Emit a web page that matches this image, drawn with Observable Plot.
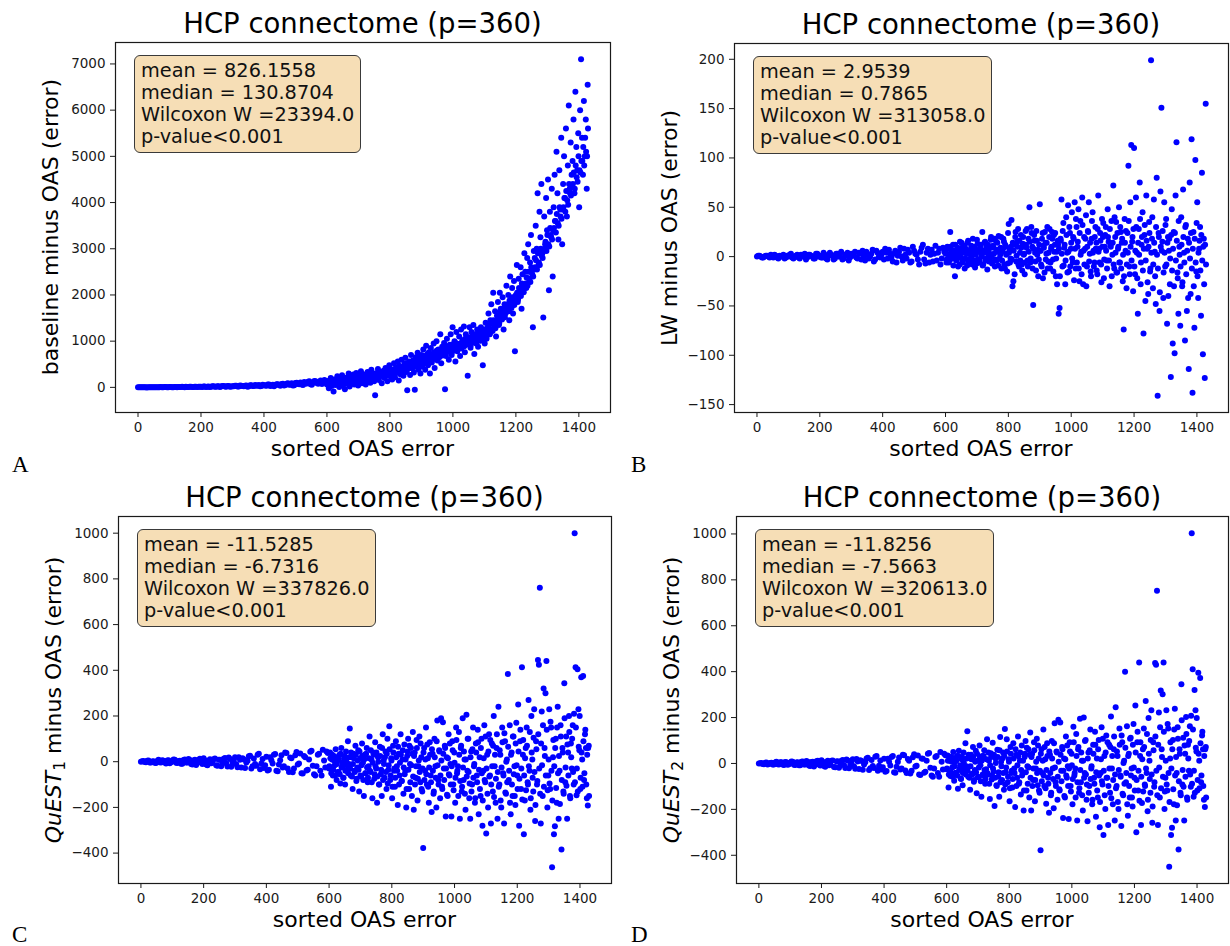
<!DOCTYPE html>
<html><head><meta charset="utf-8">
<script src="https://cdn.jsdelivr.net/npm/d3@7"></script>
<script src="https://cdn.jsdelivr.net/npm/@observablehq/plot@0.6"></script>
<style>
html,body{margin:0;padding:0;background:#fff;}
#fig{position:relative;width:1230px;height:946px;overflow:hidden;font-family:"DejaVu Sans",sans-serif;color:#000;}
.panel{position:absolute;width:615px;height:473px;}
.panel svg{display:block;}
.title{position:absolute;font-size:27.5px;line-height:27.5px;white-space:nowrap;transform:translateX(-50%);}
.xlab{position:absolute;font-size:22px;line-height:22px;white-space:nowrap;transform:translateX(-50%);}
.ylab{position:absolute;font-size:22px;line-height:22px;white-space:nowrap;transform:translate(-50%,-50%) rotate(-90deg);}
.ylab sub{font-size:70%;vertical-align:-0.25em;line-height:0;}
.letter{position:absolute;font-family:"Liberation Serif",serif;font-size:23px;line-height:17px;}
.stats{position:absolute;background:#F6DEB6;border:1.3px solid #3a3a3a;border-radius:6px;padding:4px 6px;font-size:19.3px;line-height:22px;white-space:nowrap;color:#111;}
</style></head>
<body><div id="fig"></div>
<script>
// ---------- data ----------
// x = sorted OAS error index. Low region (x<600) sampled every 8 (two interleaved rows),
// high region (x>=600) sampled every 3 (two interleaved rows).
const LOW_STEP = 8, LOW2_START = 4, HIGH_START = 600, HIGH2_START = 601, HIGH_STEP = 3;
const xTicks = [0, 200, 400, 600, 800, 1000, 1200, 1400];
const aYTicks = [0, 1000, 2000, 3000, 4000, 5000, 6000, 7000];
const bYTicks = [-150, -100, -50, 0, 50, 100, 150, 200];
const cdYTicks = [-400, -200, 0, 200, 400, 600, 800, 1000];

const titles = ["HCP connectome (p=360)", "HCP connectome (p=360)", "HCP connectome (p=360)", "HCP connectome (p=360)"];
const xLabel = "sorted OAS error";
const yLabels = ["baseline minus OAS (error)", "LW minus OAS (error)", "<i>QuEST</i><sub>1</sub> minus OAS (error)", "<i>QuEST</i><sub>2</sub> minus OAS (error)"];
const letters = ["A", "B", "C", "D"];
const statsA = ["mean = 826.1558", "median = 130.8704", "Wilcoxon W =23394.0", "p-value<0.001"];
const statsB = ["mean = 2.9539", "median = 0.7865", "Wilcoxon W =313058.0", "p-value<0.001"];
const statsC = ["mean = -11.5285", "median = -6.7316", "Wilcoxon W =337826.0", "p-value<0.001"];
const statsD = ["mean = -11.8256", "median = -7.5663", "Wilcoxon W =320613.0", "p-value<0.001"];

// ----- panel A: baseline minus OAS -----
const aLow = [0,2,1,3,2,4,3,5,2,6,
 4,7,5,8,3,9,6,10,7,12,
 9,14,8,16,11,13,18,10,20,15,
 22,14,25,17,28,12,30,20,26,34,
 18,36,25,40,22,45,30,38,52,28,
 48,35,60,42,25,66,50,72,38,80,
 55,90,45,100,70,62,115,85,130,58,
 140,95,120,75,160];
const aLow2 = [1,0,2,-1,3,1,4,0,5,3,
 6,2,8,4,10,5,7,12,4,9,
 13,6,15,10,12,7,19,14,9,22,
 16,24,10,27,19,31,15,24,35,21,
 40,27,33,16,44,29,50,36,24,55,
 41,62,30,58,45,70,35,76,52,88,
 64,40,95,72,108,50,82,120,66,98,
 135,80,150,105,125];
const aHigh = [60,140,-20,90,200,30,110,-90,170,50,
 120,240,70,10,180,95,260,40,150,-40,
 210,80,160,300,20,130,230,100,280,60,
 170,310,120,40,250,190,350,90,220,140,
 280,60,200,330,150,240,100,380,190,270,
 130,-170,300,220,400,160,250,340,90,290,
 360,200,420,260,130,330,480,240,380,170,
 300,520,220,410,330,560,150,450,280,600,
 380,250,500,640,330,-60,450,560,270,700,
 420,580,320,-50,650,480,750,380,560,300,
 700,450,820,560,380,900,620,480,760,300,
 850,540,680,950,420,720,1000,580,820,650,
 1150,520,880,740,960,-40,680,1050,800,600,
 920,1150,700,1300,850,1000,560,1200,780,940,
 1100,680,1250,900,1020,1320,760,1150,960,250,
 1080,1300,860,1200,1000,1350,720,1100,950,1250,
 880,1180,1020,1300,1100,480,1200,950,1400,1050,
 1300,1600,1150,1450,1800,1250,2050,1400,1650,1100,
 1550,1850,1350,2050,1700,1500,1950,1250,1800,1600,
 2200,1750,2000,1450,2400,1900,2150,1600,2300,780,
 2000,2650,1850,2350,2100,2600,1700,2450,2200,2900,
 2500,2150,2800,3100,2350,2700,3300,2550,1300,2950,
 2800,3500,3000,4200,2650,3800,3250,4400,2900,1510,
 3700,3100,4100,3400,4500,2100,3800,3300,4300,2400,
 3900,4600,3600,5100,4200,3200,4700,3850,5400,3100,
 4400,5000,4100,5600,3700,4800,6100,4300,5300,4600,
 4900,5800,4200,6400,5200,4700,5500,3900,6000,7100,
 5400,4600,6200,5000,5800,4300,6550];
const aHigh2 = [90,70,130,110,60,150,95,120,80,140,
 100,160,130,90,170,120,150,110,190,130,
 140,180,120,200,150,170,110,210,160,190,
 170,220,150,200,240,180,130,250,200,230,
 210,170,260,230,190,280,220,250,180,300,
 240,270,210,310,260,230,330,280,250,300,
 290,340,260,310,370,280,330,400,300,350,
 330,390,300,430,360,320,470,380,410,350,
 400,450,370,520,430,390,480,550,420,460,
 470,530,440,600,500,460,570,520,640,490,
 560,610,520,680,590,540,720,630,580,660,
 640,700,610,760,680,650,800,720,690,740,
 720,790,690,850,760,730,880,810,770,830,
 800,870,760,930,840,810,960,880,850,900,
 880,950,840,1010,920,890,1050,960,930,990,
 960,1040,920,1100,1010,980,1150,1050,1000,1080,
 1050,1130,1010,1200,1100,1060,1250,1150,1090,1180,
 1200,1300,1150,1380,1260,1220,1450,1330,1280,1400,
 1450,1550,1380,1620,1500,1470,1700,1580,1520,1650,
 1700,1800,1650,1880,1760,1720,1950,1830,1780,1900,
 1950,2050,1900,2150,2020,1980,2250,2100,2060,2200,
 2250,2380,2200,2500,2330,2280,2600,2450,2400,2550,
 2600,2750,2550,2900,2700,2650,3000,2850,2800,2950,
 3000,3150,2950,3300,3100,3050,3450,3250,3200,3400,
 3450,3600,3350,3750,3550,3500,3900,3700,3650,3850,
 3900,4100,3800,4250,4050,3950,4400,4200,4150,4350,
 4400,4650,4300,4800,4550,4450,5000,4700,4650,4900,
 4900,5200,4800,5400,5100,5000,5600];

// ----- panel B: LW minus OAS -----
const bLow = [0,1,-1,0,1,-1,0,2,-1,1,
 0,-2,1,2,-1,0,2,-2,1,3,
 -1,2,0,-2,3,1,-1,2,-3,4,
 1,-2,3,0,-3,2,4,-1,1,5,
 -2,3,6,-4,2,0,7,-3,4,-1,
 5,8,-2,3,-5,6,1,9,-4,2,
 7,-6,10,3,-3,5,12,-7,8,2,
 -5,11,4,-8,9];
const bLow2 = [1,0,-1,1,0,2,-1,1,-2,0,
 2,-1,0,3,-2,1,-1,2,0,-3,
 2,1,-2,3,0,-1,4,-2,1,2,
 -3,3,0,5,-2,1,-4,3,2,-1,
 4,-3,1,5,-2,3,-5,6,0,2,
 -3,4,7,-1,3,-6,5,0,8,-2,
 4,-5,6,2,-8,9,-3,4,-6,7,
 3,-4,8,-2,5];
const bHigh = [3,-6,10,2,-4,25,6,-2,12,0,
 -20,5,-3,9,1,-8,4,14,-5,7,
 11,-2,6,-9,16,3,-6,8,1,18,
 -4,10,2,-7,13,5,-3,9,0,25,
 -8,4,15,-2,7,12,-5,3,17,1,
 -6,9,18,-3,5,14,-9,6,2,20,
 -4,8,15,-12,10,3,-7,33,6,-2,
 37,-30,-25,12,20,-5,15,28,-10,4,
 22,-8,13,2,-18,26,9,-4,18,50,
 -6,30,10,-49,22,4,-14,16,7,-3,
 53,6,-10,24,11,-16,14,3,30,-5,
 20,-12,8,25,-3,22,12,-20,5,16,
 -58,-52,18,58,-10,34,9,-28,40,4,
 52,-15,24,8,45,-6,18,55,-12,30,
 10,48,-25,36,5,60,-28,20,8,42,
 -10,26,55,3,-15,18,45,6,-6,30,
 14,-18,62,8,24,-8,38,20,-22,10,
 30,-4,48,15,-30,12,36,2,72,-12,
 20,35,-16,8,50,-6,25,14,-25,-74,
 38,6,-32,24,92,-10,55,113,15,-35,
 110,-18,60,4,-58,28,75,-28,12,45,
 -78,22,-45,62,8,-38,35,-15,199,18,
 -32,58,5,-48,80,-141,24,-55,66,151,
 15,-42,55,-10,38,-68,20,6,-28,-122,
 48,-88,25,-98,62,116,-16,-58,10,-70,
 40,-30,68,4,-85,32,-55,18,-114,75,
 -38,119,-138,25,-72,98,-15,55,-42,8,
 30,-60,85,-99,18,-123,155];
const bHigh2 = [4,-3,8,-6,2,10,-2,5,-9,6,
 12,-4,3,-10,7,15,-1,9,-6,4,
 -12,8,3,14,-5,6,-2,11,-8,5,
 9,-11,4,17,-3,7,-6,12,2,-9,
 6,14,-4,10,-13,3,8,-2,20,-7,
 11,3,-10,16,-4,7,21,-2,9,-12,
 5,18,-8,12,2,-15,24,4,-6,10,
 -3,14,6,-18,25,1,10,-8,16,-4,
 9,-14,20,3,-6,12,28,-10,5,15,
 -2,24,-12,8,16,-5,26,2,-20,12,
 6,-8,18,-22,9,25,-3,14,-12,4,
 28,-6,10,18,-15,5,24,-2,-28,12,
 8,-20,16,3,26,-9,12,-4,22,-16,
 5,30,-10,14,-2,20,-24,8,38,-6,
 15,-12,24,2,-18,32,6,-8,18,-30,
 10,25,-5,14,-20,36,4,-10,20,8,
 -14,28,5,-6,16,-26,10,34,-3,22,
 6,-12,20,-4,28,10,-20,14,-8,40,
 4,-16,24,10,-6,30,-12,18,2,-20,
 14,26,-8,4,36,-18,10,-4,20,28,
 -10,6,30,-22,14,2,38,-6,20,-14,
 8,32,-4,16,-26,10,24,-12,4,40,
 -8,14,-20,30,2,-12,20,-36,10,6,
 26,-16,4,32,-8,14,-40,18,-2,22,
 -14,8,-30,24,-4,16,-22,36,2,-10,
 12,-26,20,-6,30,-18,6,-42,14,-2,
 24,-12,8,-30,18,-6,34,-20,4,16,
 -14,22,-4,10,-28,12,-8];

// ----- panel C: QuEST1 minus OAS -----
const cLow = [0,3,-2,5,-4,2,-6,8,-3,4,
 -8,6,-2,10,-5,3,-9,7,-4,12,
 -10,5,-14,9,-3,15,-12,4,-7,11,
 -16,8,-20,13,-6,18,-22,5,-11,20,
 -25,10,-4,24,-30,14,-18,35,-8,-28,
 22,-35,6,30,-40,-12,28,-20,38,-45,
 15,-30,42,-8,-50,25,-38,10,48,-55,
 -20,35,-60,5,45];
const cLow2 = [2,-1,4,-3,1,-5,3,-2,6,-4,
 5,-7,2,8,-6,4,-9,10,-3,7,
 -12,8,-5,13,-10,6,-15,11,-4,14,
 -18,9,-8,16,-21,12,-6,19,-24,8,
 15,-28,4,26,-20,-10,30,-33,12,-16,
 -38,20,-8,34,-42,6,-25,40,-30,18,
 -46,28,-12,36,-52,20,-35,44,-18,-60,
 30,-40,52,-25,38];
const cHigh = [-30,40,-110,10,-60,25,-15,55,-80,5,
 -45,30,-95,60,-20,-70,15,-100,45,-35,
 90,-10,145,-60,20,-120,35,-40,70,-85,
 -25,50,-130,15,-65,80,-5,-150,30,-50,
 60,-90,-20,110,-45,10,-160,40,-75,85,
 -30,-180,20,-100,65,-55,-150,120,5,-70,
 45,-120,100,-35,155,-80,15,-160,70,-40,
 -110,90,-20,-190,35,-60,120,-85,10,-140,
 75,-40,-200,25,100,-120,-10,60,-150,130,
 -210,40,-70,95,-170,-20,110,-90,20,-130,
 -378,60,-40,150,-100,15,-180,85,-60,-220,
 35,-140,100,-20,-200,180,-80,50,-160,190,
 -110,173,-30,70,-240,20,-150,120,-60,-10,
 -240,90,-100,40,-180,150,-50,-20,130,-250,
 60,-130,190,-80,10,-210,205,-40,100,-160,
 -250,45,-100,150,-20,-180,80,-60,140,-230,
 20,-150,100,-280,-40,160,-90,-314,30,-200,
 120,-60,-270,80,-130,200,-20,-180,60,-250,
 240,-100,30,-200,150,-50,-270,90,-140,10,
 384,-80,160,-230,40,-150,110,-20,-190,170,
 -60,250,-280,90,-120,413,30,-317,-170,60,
 150,-90,270,-40,-210,200,10,-130,230,-260,
 90,-100,445,424,761,-270,220,-150,320,60,
 300,441,-200,-60,230,-120,150,-462,20,-317,
 -282,100,-180,240,-250,-40,160,-384,60,-130,
 343,-90,110,-250,40,200,-150,80,-30,160,
 -100,1000,413,-147,405,230,50,-120,370,10,
 375,-80,120,60,-160,-192,70];
const cHigh2 = [-20,15,-50,30,-35,5,-60,20,-10,-45,
 10,-55,35,-25,-5,-70,25,-40,0,-15,
 -50,20,-30,40,-65,-10,15,-45,30,-75,
 5,-35,45,-60,-15,25,-80,10,-50,35,
 -25,-70,15,-40,50,-90,-5,30,-55,-20,
 40,-65,0,-100,25,-35,60,-80,-10,20,
 -45,35,-95,-15,55,-60,5,-110,40,-30,
 -70,20,-40,65,-100,-5,30,-85,50,-25,
 -55,10,-120,45,-35,70,-90,-15,35,-65,
 25,-100,-20,60,-75,5,-45,80,-120,-30,
 40,-80,10,-55,75,-110,-25,30,-90,55,
 -40,-130,20,-70,90,-15,-100,45,-60,5,
 -120,35,-80,60,-30,-145,15,-55,80,-100,
 -20,50,-125,-5,-70,95,-40,-150,30,-85,
 70,-110,-25,45,-140,10,-65,100,-45,-95,
 20,-130,55,-70,-10,-160,40,-90,85,-35,
 -120,60,-50,-170,15,-80,110,-30,-140,45,
 -65,95,-100,-20,70,-155,30,-75,120,-45,
 -110,50,-170,-25,85,-60,125,-135,0,-90,
 65,-40,-180,30,-100,110,-55,-150,80,-15,
 -120,45,-75,140,-30,-165,95,-60,15,-125,
 70,-100,-20,130,-160,40,-70,105,-45,-190,
 55,-85,120,-30,-140,80,-15,160,-110,25,
 -60,140,-125,10,-95,175,-40,-170,95,-20,
 60,-115,150,-50,25,-185,110,-80,40,-140,
 190,-25,-105,75,-60,130,-160,20,100,-45,
 210,-90,150,-30,-130,65,200,-70,40,-110,
 90,-50,140,-100,30,60,-150];

// ----- panel D: QuEST2 minus OAS -----
const dLow = [0,2,-3,4,-2,3,-5,7,-4,5,
 -7,5,-3,9,-6,4,-8,8,-5,11,
 -9,6,-13,10,-4,14,-11,5,-8,12,
 -15,9,-19,12,-7,17,-21,6,-12,19,
 -24,11,-5,22,-28,15,-20,33,-10,-26,
 20,-33,8,28,-38,-14,26,-22,36,-42,
 12,-32,40,-10,-48,22,-40,12,46,-52,
 -22,32,-58,8,42];
const dLow2 = [1,-2,3,-4,2,-5,4,-3,5,-5,
 6,-6,3,7,-7,5,-8,9,-4,8,
 -11,7,-6,12,-9,7,-14,12,-5,13,
 -17,10,-9,15,-20,13,-7,18,-23,9,
 14,-27,5,25,-21,-11,29,-32,13,-17,
 -36,21,-9,33,-40,7,-26,38,-31,19,
 -44,27,-13,35,-50,21,-36,42,-19,-58,
 28,-42,50,-26,36];
const dHigh = [-25,35,-105,12,-55,28,-18,50,-75,8,
 -40,33,-110,55,-22,-65,18,-95,48,-30,
 88,-12,140,-58,24,-115,38,-45,72,-80,
 -28,55,-130,12,-60,78,-8,-145,33,-52,
 58,-88,-25,105,-48,12,-155,45,-70,90,
 -35,-185,22,-95,60,-58,-145,115,8,-72,
 48,-115,150,-38,105,-82,18,-165,72,-42,
 -105,88,-22,-190,38,-62,118,-88,12,-135,
 78,-42,-205,28,98,-118,-12,62,-148,135,
 -205,42,-72,92,-165,-22,108,-95,22,-128,
 -378,62,-42,148,-98,18,-175,88,-62,-215,
 38,-138,98,-22,-195,175,-82,52,-158,190,
 -112,178,-32,72,-238,22,-148,118,-62,-12,
 -242,92,-98,42,-178,160,-52,-22,128,-248,
 62,-128,195,-82,12,-205,200,-42,102,-158,
 -252,48,-98,148,-22,-178,82,-62,138,-232,
 22,-148,102,-278,-42,158,-92,-312,32,-198,
 122,-62,-268,82,-128,205,-22,-178,62,-248,
 245,-98,32,-198,152,-52,-272,92,-138,12,
 400,-82,162,-228,42,-148,112,-22,-188,172,
 -62,252,-300,92,-118,440,32,-268,-172,62,
 152,-92,272,-42,-208,198,12,-128,232,-258,
 92,-102,438,430,752,-268,222,-148,318,62,
 302,440,-198,-62,232,-118,152,-450,22,-312,
 -280,102,-178,238,-248,-42,158,-375,62,-128,
 345,-92,112,-248,42,202,-148,82,-32,162,
 -102,1003,410,-145,320,232,52,-118,395,12,
 372,-82,122,62,-158,-190,72];
const dHigh2 = [-22,12,-48,28,-38,8,-58,22,-12,-42,
 12,-52,32,-28,-8,-68,28,-42,2,-18,
 -48,22,-32,38,-62,-12,18,-48,28,-72,
 8,-38,42,-58,-18,28,-78,12,-48,32,
 -28,-68,18,-42,48,-88,-8,28,-52,-22,
 38,-62,2,-98,28,-38,58,-82,-12,22,
 -42,32,-92,-18,52,-58,8,-108,42,-32,
 -68,22,-42,62,-98,-8,32,-82,48,-28,
 -52,12,-118,42,-38,68,-88,-18,38,-62,
 28,-98,-22,58,-72,8,-42,78,-118,-32,
 42,-78,12,-52,72,-108,-28,32,-88,52,
 -42,-128,22,-68,88,-18,-98,48,-58,8,
 -118,38,-78,62,-32,-142,18,-52,78,-98,
 -22,52,-122,-8,-68,92,-42,-148,32,-82,
 72,-108,-28,48,-138,12,-62,98,-48,-92,
 22,-128,58,-68,-12,-158,42,-88,82,-38,
 -118,62,-52,-168,18,-78,108,-32,-138,48,
 -62,92,-98,-22,72,-152,32,-72,118,-48,
 -108,52,-168,-28,82,-58,122,-132,2,-88,
 68,-42,-178,32,-98,108,-52,-148,82,-18,
 -118,48,-72,138,-32,-162,92,-58,18,-122,
 72,-98,-22,128,-158,42,-68,102,-48,-188,
 58,-82,118,-32,-138,82,-18,158,-108,28,
 -58,138,-122,12,-92,172,-42,-168,92,-22,
 62,-112,148,-52,28,-182,108,-78,42,-138,
 188,-28,-102,78,-58,128,-158,22,98,-48,
 208,-88,148,-32,-128,68,198,-72,42,-108,
 88,-52,138,-98,32,62,-148];

// ---------- layout ----------
const X_DOMAIN = [-71.5, 1500.5];
const fmt = d3.format("d");
const panels = [
  {low: aLow, low2: aLow2, high: aHigh, high2: aHigh2, yDomain: [-544, 7464], yTicks: aYTicks, stats: statsA,
   left: 0, top: 0, ml: 115, mr: 5, mt: 42, mb: 61},
  {low: bLow, low2: bLow2, high: bHigh, high2: bHigh2, yDomain: [-158, 216], yTicks: bYTicks, stats: statsB,
   left: 615, top: 0, ml: 119, mr: 2, mt: 43, mb: 61},
  {low: cLow, low2: cLow2, high: cHigh, high2: cHigh2, yDomain: [-533, 1073], yTicks: cdYTicks, stats: statsC,
   left: 0, top: 473, ml: 118, mr: 4, mt: 43, mb: 63},
  {low: dLow, low2: dLow2, high: dHigh, high2: dHigh2, yDomain: [-523, 1076], yTicks: cdYTicks, stats: statsD,
   left: 615, top: 473, ml: 121, mr: 2, mt: 43, mb: 63}
];

const fig = document.getElementById("fig");
function addDiv(cls, html, left, top) {
  const d = document.createElement("div");
  d.className = cls;
  d.innerHTML = html;
  d.style.left = left + "px";
  d.style.top = top + "px";
  fig.appendChild(d);
  return d;
}

panels.forEach((p, k) => {
  const data = [
    ...p.low.map((y, i) => ({x: i * LOW_STEP, y})),
    ...p.low2.map((y, i) => ({x: LOW2_START + i * LOW_STEP, y})),
    ...p.high.map((y, i) => ({x: HIGH_START + i * HIGH_STEP, y})),
    ...p.high2.map((y, i) => ({x: HIGH2_START + i * HIGH_STEP, y}))
  ];
  const chart = Plot.plot({
    width: 615, height: 473,
    marginLeft: p.ml, marginRight: p.mr, marginTop: p.mt, marginBottom: p.mb,
    x: {domain: X_DOMAIN, ticks: xTicks, tickFormat: fmt, tickSize: 5, tickPadding: 5, label: null},
    y: {domain: p.yDomain, ticks: p.yTicks, tickFormat: fmt, tickSize: 5, tickPadding: 5, label: null},
    style: {fontFamily: "'DejaVu Sans', sans-serif", fontSize: "13.5px", color: "#1a1a1a", background: "transparent", overflow: "visible"},
    marks: [
      Plot.frame({stroke: "#1a1a1a", strokeWidth: 1.2}),
      Plot.dot(data, {x: "x", y: "y", r: 3, fill: "#0000ff"})
    ]
  });
  const holder = addDiv("panel", "", p.left, p.top);
  holder.appendChild(chart);

  const fx0 = p.left + p.ml, fx1 = p.left + 615 - p.mr;
  const fy0 = p.top + p.mt, fy1 = p.top + 473 - p.mb;
  const cx = (fx0 + fx1) / 2;
  // title: baseline ~9px above frame
  addDiv("title", titles[k], cx, fy0 - 9 - 0.846 * 27.5);
  // x label baseline ~45px below frame
  addDiv("xlab", xLabel, cx, fy1 + 45 - 0.846 * 22);
  // y label centred ~64px left of frame
  addDiv("ylab", yLabels[k], fx0 - 64, (fy0 + fy1) / 2);
  // panel letter (baseline near the bottom of each half)
  addDiv("letter", letters[k], p.left + (k % 2 ? 16 : 12), p.top + (k < 2 ? 472 : 469) - 16.3);
  // stats box
  addDiv("stats", p.stats.join("<br>"), fx0 + 19, fy0 + 13);
});
</script></body></html>
